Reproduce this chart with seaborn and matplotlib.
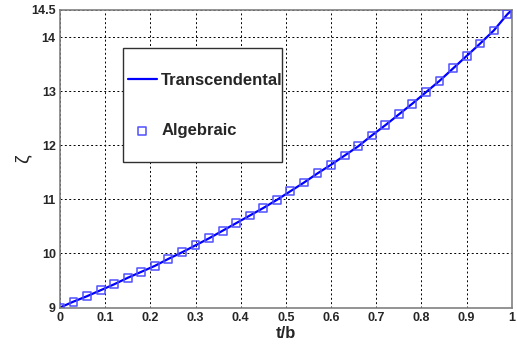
import numpy as np
import pandas as pd
import matplotlib
matplotlib.use("Agg")
import matplotlib.pyplot as plt
from matplotlib.patches import Rectangle
import seaborn as sns

# Data
t_alg = np.round(np.arange(34) * 0.03, 2)
zeta_alg = [9.00, 9.11, 9.21, 9.32, 9.43, 9.55, 9.66, 9.77, 9.90, 10.02,
            10.15, 10.28, 10.42, 10.56, 10.70, 10.84, 10.99, 11.15, 11.31, 11.48,
            11.64, 11.81, 11.98, 12.18, 12.37, 12.57, 12.77, 12.98, 13.19, 13.42,
            13.65, 13.88, 14.12, 14.42]
t_tr = list(t_alg) + [1.0]
zeta_tr = zeta_alg + [14.5]

xticks = [0, 0.1, 0.2, 0.3, 0.4, 0.5, 0.6, 0.7, 0.8, 0.9, 1]
xticklabels = ["0", "0.1", "0.2", "0.3", "0.4", "0.5", "0.6", "0.7", "0.8", "0.9", "1"]
yticks = [9, 10, 11, 12, 13, 14, 14.5]
yticklabels = ["9", "10", "11", "12", "13", "14", "14.5"]

df_tr = pd.DataFrame({"t": t_tr, "zeta": zeta_tr})
df_alg = pd.DataFrame({"t": t_alg, "zeta": zeta_alg})

sns.set_style("white")
plt.rcParams['font.family'] = ['Liberation Sans', 'DejaVu Sans']

fig, ax = plt.subplots(figsize=(5.17, 3.44), dpi=100)
fig.subplots_adjust(left=0.116, right=0.990, top=0.971, bottom=0.106)

sns.lineplot(data=df_tr, x="t", y="zeta", ax=ax, color="#0000ff", lw=1.6,
             label="Transcendental")
sns.scatterplot(data=df_alg, x="t", y="zeta", ax=ax, marker="s", s=32,
                facecolor="none", edgecolor="#5050ff", linewidth=1.1,
                label="Algebraic", zorder=3)

ax.set_xlim(0, 1)
ax.set_ylim(9, 14.5)
ax.set_xticks(xticks)
ax.set_xticklabels(xticklabels, fontsize=9, fontweight="bold")
ax.set_yticks(yticks)
ax.set_yticklabels(yticklabels, fontsize=9, fontweight="bold")
ax.tick_params(length=0, pad=3)
ax.grid(True, color="black", linestyle=(0, (2, 2.5)), linewidth=0.7)

for s in ax.spines.values():
    s.set_color("#808080")
    s.set_linewidth(1.2)

ax.set_xlabel("t/b", fontsize=12, fontweight="bold", labelpad=2)
ax.set_ylabel("ζ", fontsize=14, labelpad=0)

# legend box (drawn separately: tall but narrow padding)
ax.add_patch(Rectangle((0.139, 0.490), 0.352, 0.381, transform=ax.transAxes,
                       facecolor="white", edgecolor="#303030", lw=1.0, zorder=4))
leg = ax.legend(loc="center left", bbox_to_anchor=(0.150, 0.679),
                prop={"weight": "bold", "size": 12}, frameon=False,
                handlelength=1.75, borderpad=0, borderaxespad=0,
                labelspacing=2.1, handletextpad=0.25)
leg.set_zorder(5)

plt.savefig("out.png", dpi=100)
